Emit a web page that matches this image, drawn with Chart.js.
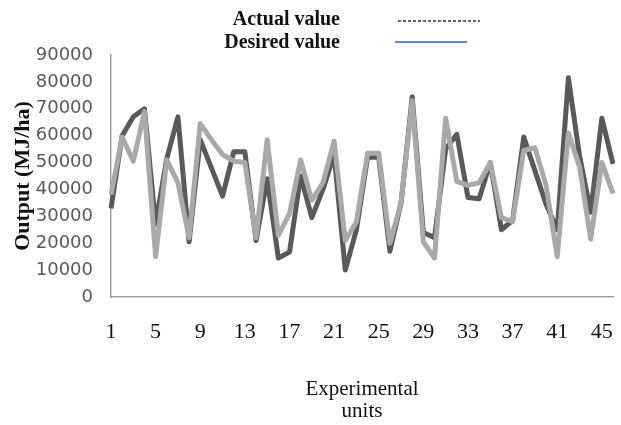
<!DOCTYPE html>
<html>
<head>
<meta charset="utf-8">
<script src="https://cdn.jsdelivr.net/npm/chart.js@4/dist/chart.umd.min.js"></script>
<style>
  html, body { margin: 0; padding: 0; background: #fff; }
  #wrap { position: relative; width: 621px; height: 425px; }
</style>
</head>
<body>
<div id="wrap"><canvas id="outputChart" width="621" height="425"></canvas></div>
<script>
// experimental units 1..46
const units = Array.from({ length: 46 }, (_, i) => String(i + 1));

const actualValues = [
  33000, 60000, 67000, 70000, 27000, 51500, 67000, 20500, 58500, 48000,
  37500, 54000, 54000, 21000, 44000, 14500, 16700, 45000, 29500, 40000,
  53000, 10000, 25000, 52000, 52000, 17000, 35000, 74500, 24000, 22000,
  55000, 60500, 37000, 36500, 50000, 25000, 28500, 59500, 47000, 34500,
  25000, 81500, 52500, 31500, 66500, 49500
];

const desiredValues = [
  38000, 59500, 50500, 69000, 15000, 51000, 42500, 22000, 64500, 58500,
  53000, 50500, 50000, 22000, 58500, 23000, 31000, 51000, 36000, 42500,
  58000, 21000, 28000, 53500, 53500, 20000, 35000, 73000, 20500, 14500,
  66500, 43000, 41500, 42500, 50000, 29500, 28000, 54500, 55500, 41500,
  15000, 61000, 48500, 21500, 50000, 38500
];

const yMin = 0;
const yMax = 90000;
const yStep = 10000;

// legend as in the figure (text + sample line on the right)
const legendPlugin = {
  id: "figLegend",
  afterDraw(chart) {
    const ctx = chart.ctx;
    ctx.save();
    ctx.font = "bold 20px 'Liberation Serif', 'Times New Roman', serif";
    ctx.fillStyle = "#111";
    ctx.textAlign = "right";
    ctx.textBaseline = "middle";
    ctx.fillText("Actual value", 340, 20);
    ctx.fillText("Desired value", 340, 43);

    ctx.strokeStyle = "#333";
    ctx.lineWidth = 1.5;
    ctx.setLineDash([3, 2]);
    ctx.beginPath();
    ctx.moveTo(398, 21);
    ctx.lineTo(480, 21);
    ctx.stroke();

    ctx.setLineDash([]);
    ctx.strokeStyle = "#5b8bd0";
    ctx.lineWidth = 2;
    ctx.beginPath();
    ctx.moveTo(395, 42);
    ctx.lineTo(467, 42);
    ctx.stroke();
    ctx.restore();
  }
};

new Chart(document.getElementById("outputChart"), {
  type: "line",
  data: {
    labels: units,
    datasets: [
      {
        label: "Desired value",
        data: desiredValues,
        borderColor: "#a9a9a9",
        borderWidth: 5,
        borderJoinStyle: "round",
        pointRadius: 0,
        tension: 0,
        order: 0
      },
      {
        label: "Actual value",
        data: actualValues,
        borderColor: "#595959",
        borderWidth: 5,
        borderJoinStyle: "round",
        pointRadius: 0,
        tension: 0,
        order: 1
      }
    ]
  },
  options: {
    responsive: false,
    animation: false,
    devicePixelRatio: 1,
    layout: { padding: { top: 55, right: 8, bottom: 0, left: 0 } },
    plugins: {
      legend: { display: false },
      tooltip: { enabled: false }
    },
    scales: {
      x: {
        grid: { display: false },
        border: { display: true, color: "#a0a0a0", width: 1.5 },
        ticks: {
          autoSkip: false,
          maxRotation: 0,
          padding: 14,
          color: "#111",
          font: { family: "'Liberation Serif', 'Times New Roman', serif", size: 22 },
          callback: (v, i) => (i % 4 === 0 ? units[i] : "")
        },
        title: {
          display: true,
          text: ["Experimental", "units"],
          color: "#111",
          font: { family: "'Liberation Serif', 'Times New Roman', serif", size: 21, lineHeight: 1.05 },
          padding: { top: 0, bottom: 2 }
        },
        afterFit: (scale) => {
          scale.height = 128;
          scale.paddingLeft = 0;
          scale.paddingRight = 0;
        }
      },
      y: {
        min: yMin,
        max: yMax,
        grid: { display: false },
        border: { display: true, color: "#a0a0a0", width: 1.5 },
        ticks: {
          stepSize: yStep,
          padding: 10,
          color: "#595959",
          font: { family: "'DejaVu Sans', sans-serif", size: 18 },
          callback: (v) => String(v)
        },
        title: {
          display: true,
          text: "Output (MJ/ha)",
          color: "#111",
          font: { family: "'Liberation Serif', 'Times New Roman', serif", size: 22, weight: "bold" },
          padding: { top: 10, bottom: 0 }
        },
        afterFit: (scale) => { scale.width = 111; }
      }
    }
  },
  plugins: [legendPlugin]
});
</script>
</body>
</html>
